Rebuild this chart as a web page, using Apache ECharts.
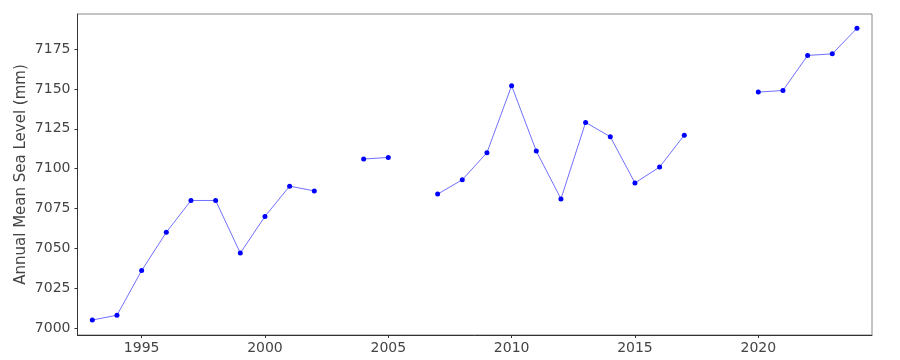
<!DOCTYPE html>
<html>
<head>
<meta charset="utf-8">
<script src="https://cdn.jsdelivr.net/npm/echarts@6/dist/echarts.min.js"></script>
<style>html,body{margin:0;padding:0;background:#fff}#c{width:900px;height:360px}</style>
</head>
<body>
<div id="c"></div>
<script>
const years = [1993,1994,1995,1996,1997,1998,1999,2000,2001,2002,2003,2004,2005,2006,2007,2008,2009,2010,2011,2012,2013,2014,2015,2016,2017,2018,2019,2020,2021,2022,2023,2024];
const seaLevel = [7005,7008,7036,7060,7080,7080,7047,7070,7089,7086,null,7106,7107,null,7084,7093,7110,7152,7111,7081,7129,7120,7091,7101,7121,null,null,7148,7149,7171,7172,7188];
const xTicks = [1995,2000,2005,2010,2015,2020];
const yTicks = [7000,7025,7050,7075,7100,7125,7150,7175];

const chart = echarts.init(document.getElementById('c'), null, {renderer:'canvas'});
const font = 'DejaVu Sans';
chart.setOption({
  animation:false,
  grid:{left:77.5,right:28,top:14,bottom:25,show:true,borderColor:'#888',borderWidth:1,backgroundColor:'#fff'},
  xAxis:{
    type:'value',min:1992.4,max:2024.61,
    axisLine:{show:true,lineStyle:{color:'#333',width:1}},
    axisTick:{show:true,length:3,lineStyle:{color:'#333'},customValues:xTicks},
    axisLabel:{color:'#444',fontFamily:font,fontSize:14,margin:6,customValues:xTicks,formatter:v=>String(v)},
    splitLine:{show:false}
  },
  yAxis:{
    type:'value',min:6995.6,max:7197,
    name:'Annual Mean Sea Level (mm)',nameLocation:'middle',nameGap:49,nameMoveOverlap:false,
    nameTextStyle:{color:'#444',fontFamily:font,fontSize:15},
    axisLine:{show:true,lineStyle:{color:'#333',width:1}},
    axisTick:{show:true,length:3,lineStyle:{color:'#333'},customValues:yTicks},
    axisLabel:{color:'#444',fontFamily:font,fontSize:14,margin:7,customValues:yTicks,formatter:v=>String(v)},
    splitLine:{show:false}
  },
  series:[{
    type:'line',
    data:years.map((y,i)=>[y,seaLevel[i]]),
    connectNulls:false,
    symbol:'circle',symbolSize:5,showSymbol:true,
    itemStyle:{color:'#0000ff'},
    lineStyle:{color:'#7070ff',width:1}
  }]
});
</script>
</body>
</html>
